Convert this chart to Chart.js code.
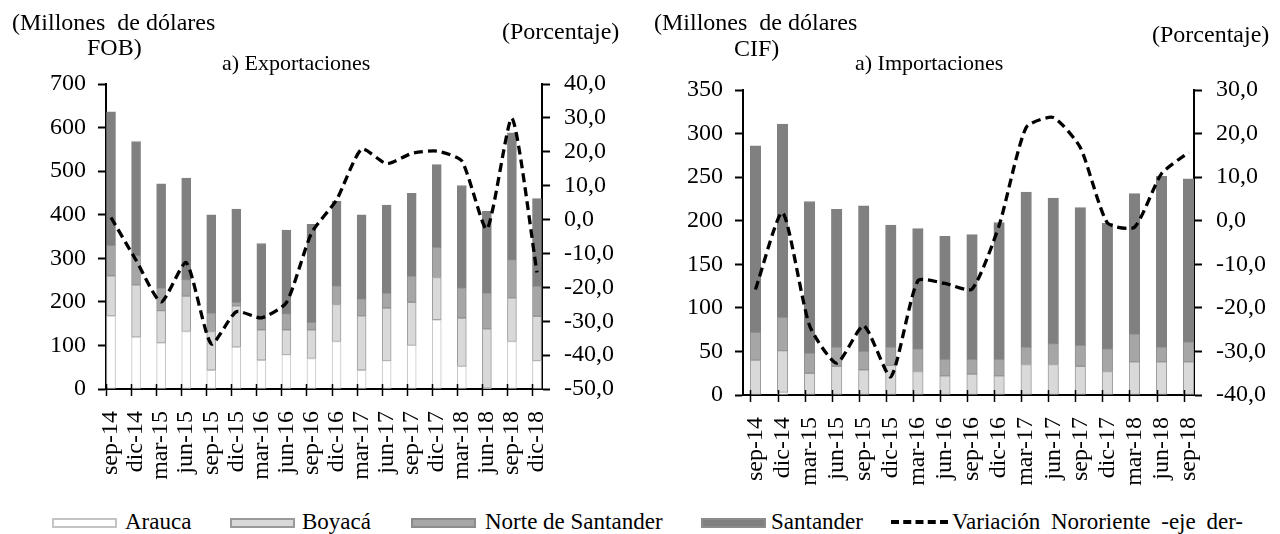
<!DOCTYPE html>
<html>
<head>
<meta charset="utf-8">
<script src="https://cdn.jsdelivr.net/npm/chart.js@4.4.1/dist/chart.umd.min.js"></script>
<style>
body{margin:0;background:#fff;}
#wrap{position:relative;width:1280px;height:534px;overflow:hidden;font-family:"Liberation Serif","Times New Roman",serif;color:#000;}
canvas{position:absolute;top:0;}
.t{position:absolute;white-space:pre;font-size:24px;line-height:24px;}
.ley{position:absolute;top:510px;font-size:23px;line-height:24px;white-space:pre;}
.caja{position:absolute;top:518px;width:61px;height:6px;}
</style>
</head>
<body>
<div id="wrap">
  <canvas id="chartExp" width="640" height="500" style="left:0px"></canvas>
  <canvas id="chartImp" width="640" height="500" style="left:640px"></canvas>

  <div class="t" style="left:12px;top:10px">(Millones  de dólares</div>
  <div class="t" style="left:87px;top:35px">FOB)</div>
  <div class="t" style="left:222px;top:51px;font-size:22px">a) Exportaciones</div>
  <div class="t" style="left:502px;top:19px">(Porcentaje)</div>

  <div class="t" style="left:654px;top:10px">(Millones  de dólares</div>
  <div class="t" style="left:734px;top:36px">CIF)</div>
  <div class="t" style="left:855px;top:51px;font-size:22px">a) Importaciones</div>
  <div class="t" style="left:1152px;top:22px">(Porcentaje)</div>

  <div class="caja" style="left:52px;background:#fff;border:2px solid #c4c4c4"></div>
  <div class="ley" style="left:125px">Arauca</div>
  <div class="caja" style="left:230px;background:#d9d9d9;border:2px solid #9a9a9a"></div>
  <div class="ley" style="left:302px">Boyacá</div>
  <div class="caja" style="left:411px;background:#a6a6a6;border:2px solid #8c8c8c"></div>
  <div class="ley" style="left:485px">Norte de Santander</div>
  <div class="caja" style="left:701px;background:#808080;border:2px solid #8c8c8c"></div>
  <div class="ley" style="left:771px">Santander</div>
  <div style="position:absolute;left:891px;top:520px;width:57px;border-top:4px dashed #000"></div>
  <div class="ley" style="left:952px;word-spacing:5px">Variación Nororiente -eje der-</div>
</div>
<script>
// exportaciones, millones de dolares FOB
var periodosExp = ['sep-14','dic-14','mar-15','jun-15','sep-15','dic-15','mar-16','jun-16','sep-16','dic-16','mar-17','jun-17','sep-17','dic-17','mar-18','jun-18','sep-18','dic-18']
var expArauca = [168,119,106,132,43,96,66,79,70,109,43,65,100,159,52,2,109,65]
var expBoyaca = [92,120,74,81,89,95,70,57,66,85,125,121,99,97,111,136,100,102]
var expNorte = [70,68,52,38,42,8,25,35,17,43,39,34,60,69,69,82,86,69]
var expSantander = [306,261,239,233,226,214,173,194,225,194,193,202,190,190,235,188,293,201]
var expVariacion = [0.6,-12,-24.3,-12.7,-36.7,-27.2,-29,-24.5,-4,5.8,20.8,16.5,19.5,20.2,17.3,-2.8,29.9,-15.6]

// importaciones, millones de dolares CIF
var periodosImp = ['sep-14','dic-14','mar-15','jun-15','sep-15','dic-15','mar-16','jun-16','sep-16','dic-16','mar-17','jun-17','sep-17','dic-17','mar-18','jun-18','sep-18']
var impArauca = [0,3,0,0,0,0,0,0,0,0,0,0,0,0,0,0,0]
var impBoyaca = [40,48,25,33,29,34,27,22,24,22,35,35,33,27,38,38,38]
var impNorte = [32,38,23,22,21,21,26,19,17,19,20,24,24,26,32,17,23]
var impSantander = [214,222,174,158,167,140,138,141,143,157,178,167,158,144,161,196,187]
var impVariacion = [-15.8,1.9,-24.1,-32.7,-24.1,-35.8,-13.8,-14.4,-15.7,-1.1,21.4,23.7,16.8,-0.5,-1.5,10.8,15.7]

var fuente = {family:'"Liberation Serif", "Times New Roman", serif', size:24}

const puntos = (arr) => arr.map((v, i) => ({x: i, y: v}))

// marcas del eje x, cruzan la linea del eje (estilo excel)
const marcasX = {
  id: 'marcasX',
  afterDraw(chart, args, opts) {
    const ctx = chart.ctx
    const sx = chart.scales.x
    const b = chart.chartArea.bottom
    ctx.save()
    ctx.strokeStyle = '#000'
    ctx.lineWidth = 1.5
    for (let i = 0; i < opts.n; i++) {
      const px = Math.round(sx.getPixelForValue(i) - 5) + 0.5
      ctx.beginPath()
      ctx.moveTo(px, b - 5)
      ctx.lineTo(px, b + 7)
      ctx.stroke()
    }
    ctx.restore()
  }
}

const hacerChart = (id, cfg) => {
  const barra = (label, data, fill, border) => ({
    type: 'bar', label: label, data: puntos(data), backgroundColor: fill,
    borderColor: border, borderWidth: 1, borderSkipped: false,
    barThickness: cfg.grosor, yAxisID: 'y', order: 1
  })
  return new Chart(id, {
    data: {
      datasets: [
        {
          type: 'line', label: 'Variación Nororiente -eje der-', data: puntos(cfg.variacion),
          borderColor: '#000', borderWidth: 3.3, borderDash: [9, 5], pointRadius: 0,
          tension: 0.2, yAxisID: 'y1', order: 0
        },
        barra('Arauca', cfg.arauca, '#ffffff', '#c4c4c4'),
        barra('Boyacá', cfg.boyaca, '#d9d9d9', '#9a9a9a'),
        barra('Norte de Santander', cfg.norte, '#a6a6a6', '#8f8f8f'),
        barra('Santander', cfg.santander, '#808080', '#808080')
      ]
    },
    options: {
      responsive: false,
      animation: false,
      devicePixelRatio: 1,
      layout: {padding: {top: cfg.arriba, left: 0, right: 0, bottom: 0}},
      plugins: {legend: {display: false}, tooltip: {enabled: false}, marcasX: {n: cfg.periodos.length}},
      scales: {
        x: {
          type: 'linear', min: cfg.xmin, max: cfg.xmax, stacked: true, offset: false,
          grid: {display: false, offset: false},
          border: {display: true, color: '#000', width: 2},
          ticks: {
            stepSize: 1, includeBounds: false, autoSkip: false, maxRotation: 90, minRotation: 90,
            padding: 14, color: '#000', font: fuente,
            callback: (v) => cfg.periodos[v] !== undefined ? cfg.periodos[v] : ''
          },
          afterFit: (s) => { s.height = cfg.altoX }
        },
        y: {
          position: 'left', min: 0, max: cfg.ymax, stacked: true,
          grid: {drawOnChartArea: false, tickLength: 8, tickColor: '#000', tickWidth: 2},
          border: {display: true, color: '#000', width: 2},
          ticks: {stepSize: cfg.ypaso, padding: 12, color: '#000', font: fuente},
          afterFit: (s) => { s.width = cfg.anchoIzq }
        },
        y1: {
          position: 'right', min: cfg.pmin, max: cfg.pmax,
          grid: {drawOnChartArea: false, tickLength: 8, tickColor: '#000', tickWidth: 2},
          border: {display: true, color: '#000', width: 2},
          ticks: {
            stepSize: 10, padding: 14, color: '#000', font: fuente,
            callback: (v) => v.toFixed(1).replace('.', ',')
          },
          afterFit: (s) => { s.width = cfg.anchoDer }
        }
      }
    },
    plugins: [marcasX]
  })
}

hacerChart('chartExp', {
  periodos: periodosExp, arauca: expArauca, boyaca: expBoyaca, norte: expNorte,
  santander: expSantander, variacion: expVariacion,
  xmin: -0.2, xmax: 17.2, ymax: 700, ypaso: 100, pmin: -50, pmax: 40,
  grosor: 9, arriba: 84, altoX: 111, anchoIzq: 106, anchoDer: 98
})

hacerChart('chartImp', {
  periodos: periodosImp, arauca: impArauca, boyaca: impBoyaca, norte: impNorte,
  santander: impSantander, variacion: impVariacion,
  xmin: -0.46, xmax: 16.2, ymax: 350, ypaso: 50, pmin: -40, pmax: 30,
  grosor: 10.5, arriba: 90, altoX: 105, anchoIzq: 103, anchoDer: 86
})
</script>
</body>
</html>
